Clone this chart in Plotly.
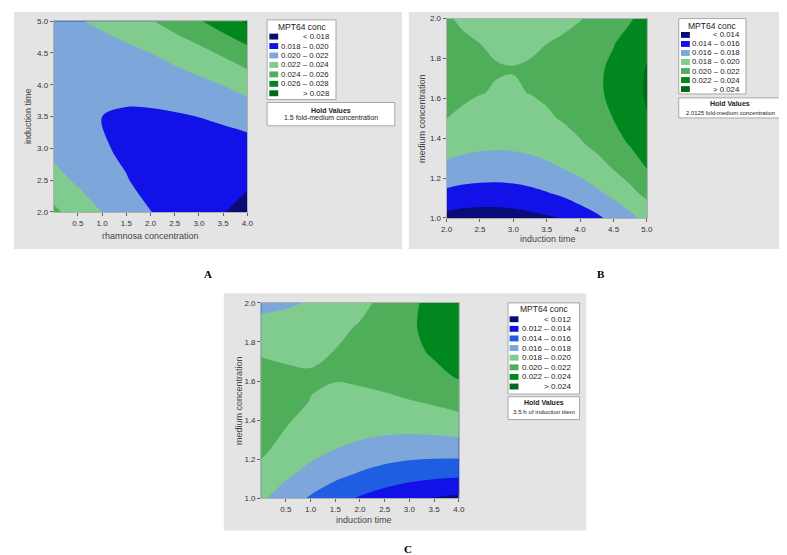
import plotly.graph_objects as go

W, H = 787, 555

# ---- Panel A: MPT64 conc vs rhamnosa concentration (x) and induction time (y), values x1e-5
xA = [0, 0.5, 1, 1.5, 2, 2.5, 3, 3.5, 4]
yA = [2, 2.5, 3, 3.5, 4, 4.5, 5]
zA = [
    [2440, 2313, 2197, 2094, 2004, 1925, 1859, 1804, 1762],
    [2269, 2170, 2083, 2008, 1946, 1896, 1858, 1832, 1818],
    [2146, 2075, 2017, 1971, 1937, 1915, 1905, 1908, 1923],
    [2072, 2030, 2000, 1982, 1976, 1983, 2002, 2033, 2076],
    [2046, 2033, 2031, 2042, 2065, 2100, 2147, 2206, 2277],
    [2069, 2084, 2111, 2150, 2201, 2265, 2340, 2428, 2528],
    [2141, 2184, 2239, 2307, 2386, 2479, 2582, 2699, 2828],
]

# ---- Panel B: induction time (x) and medium concentration (y)
xB = [2, 2.25, 2.5, 2.75, 3, 3.25, 3.5, 3.75, 4, 4.25, 4.5, 4.75, 5]
yB = [1, 1.125, 1.25, 1.375, 1.5, 1.625, 1.75, 1.875, 2]
zB = [
    [1337, 1314, 1304, 1305, 1319, 1345, 1375, 1410, 1493, 1565, 1654, 1750, 1861],
    [1564, 1538, 1525, 1523, 1534, 1557, 1592, 1638, 1697, 1767, 1852, 1947, 2054],
    [1751, 1722, 1706, 1701, 1709, 1729, 1761, 1805, 1861, 1929, 2010, 2102, 2207],
    [1897, 1865, 1846, 1838, 1843, 1860, 1889, 1931, 1984, 2050, 2127, 2217, 2319],
    [2002, 1967, 1945, 1935, 1937, 1951, 1978, 2016, 2067, 2129, 2204, 2291, 2390],
    [2066, 2029, 2004, 1991, 1991, 2002, 2025, 2061, 2109, 2169, 2241, 2325, 2421],
    [2090, 2050, 2023, 2007, 2003, 2012, 2033, 2065, 2110, 2167, 2237, 2318, 2411],
    [2074, 2031, 2000, 1982, 1976, 1981, 1999, 2029, 2071, 2126, 2192, 2271, 2361],
    [2017, 1971, 1938, 1916, 1907, 1910, 1925, 1953, 1992, 2043, 2107, 2183, 2270],
]

# ---- Panel C: induction time (x) and medium concentration (y)
xC = [0, 0.5, 1, 1.5, 2, 2.5, 3, 3.5, 4]
yC = [1, 1.125, 1.25, 1.375, 1.5, 1.625, 1.75, 1.875, 2]
zC = [
    [1832, 1698, 1578, 1472, 1380, 1303, 1240, 1191, 1157],
    [1951, 1838, 1739, 1654, 1584, 1527, 1485, 1458, 1444],
    [2033, 1941, 1863, 1799, 1750, 1714, 1693, 1686, 1694],
    [2077, 2006, 1949, 1906, 1878, 1864, 1864, 1878, 1906],
    [2084, 2034, 1998, 1976, 1969, 1975, 1996, 2031, 2081],
    [2053, 2024, 2009, 2008, 2022, 2049, 2091, 2148, 2218],
    [1985, 1976, 1982, 2003, 2037, 2086, 2149, 2226, 2317],
    [1879, 1891, 1918, 1960, 2015, 2085, 2169, 2267, 2379],
    [1735, 1769, 1817, 1879, 1955, 2046, 2151, 2270, 2395],
]

levelsA = [0.018, 0.020, 0.022, 0.024, 0.026, 0.028]
levelsB = [0.014, 0.016, 0.018, 0.020, 0.022, 0.024]
levelsC = [0.012, 0.014, 0.016, 0.018, 0.020, 0.022, 0.024]
ticksA_x = [0.5, 1, 1.5, 2, 2.5, 3, 3.5, 4]
ticksA_y = [2, 2.5, 3, 3.5, 4, 4.5, 5]
ticksB_x = [2, 2.5, 3, 3.5, 4, 4.5, 5]
ticksB_y = [1, 1.2, 1.4, 1.6, 1.8, 2]
ticksC_x = [0.5, 1, 1.5, 2, 2.5, 3, 3.5, 4]
ticksC_y = [1, 1.2, 1.4, 1.6, 1.8, 2]

NAVY = '#0b0b78'; BLUE = '#1212e8'; MID = '#1f5ee0'; LB = '#7da7da'
LG = '#80cc8e'; MG = '#4fae5a'; GR = '#00871e'; DG = '#006818'
colsA = [NAVY, BLUE, LB, LG, MG, GR, DG]
colsC = [NAVY, BLUE, MID, LB, LG, MG, GR, DG]


def cscale(cols):
    n = len(cols) - 1
    return [[k / n, c] for k, c in enumerate(cols)]


fig = go.Figure()


def contour(x, y, z, levels, cols, ax):
    fig.add_trace(go.Contour(
        x=x, y=y, z=[[v / 1e5 for v in row] for row in z],
        colorscale=cscale(cols), autocontour=False,
        contours=dict(start=levels[0], end=levels[-1], size=0.002,
                      coloring='fill', showlines=False),
        line=dict(smoothing=1, width=0), showscale=False, hoverinfo='skip',
        xaxis='x' + ax, yaxis='y' + ax))


contour(xA, yA, zA, levelsA, colsA, '')
contour(xB, yB, zB, levelsB, colsA, '2')
contour(xC, yC, zC, levelsC, colsC, '3')


def xd(a, b):
    return [a / W, b / W]


def yd(t, b):
    return [1 - b / H, 1 - t / H]


tf = dict(family='Liberation Sans', size=8, color='#333')


def axis(dom, rng, tv, anchor):
    return dict(domain=dom, range=rng, tickvals=tv, ticktext=['%.1f' % t for t in tv],
                ticks='outside', ticklen=3, tickcolor='#666', tickfont=tf,
                showgrid=False, zeroline=False, showline=True, linecolor='#b0b0b0',
                mirror=True, anchor=anchor, fixedrange=True)


fig.update_layout(
    xaxis=axis(xd(40.3, 237), [0, 4], ticksA_x, 'y'),
    yaxis=axis(yd(9.3, 203.3), [2, 5], ticksA_y, 'x'),
    xaxis2=axis(xd(439.3, 642.7), [2, 5], ticksB_x, 'y2'),
    yaxis2=axis(yd(6.7, 209.3), [1, 2], ticksB_y, 'x2'),
    xaxis3=axis(xd(251, 451.7), [0, 4], ticksC_x, 'y3'),
    yaxis3=axis(yd(295.7, 494.3), [1, 2], ticksC_y, 'x3'),
)

shapes = []
anns = []


def rect(x0, y0, x1, y1, fill, line=None):
    shapes.append(dict(type='rect', xref='paper', yref='paper', x0=x0 / W, x1=x1 / W,
                       y0=1 - y1 / H, y1=1 - y0 / H, fillcolor=fill,
                       line=dict(width=1 if line else 0, color=line or fill), layer='below'))


def ann(text, x, y, size, xa='center', bold=False, color='#222', family='Liberation Sans', angle=0):
    if bold:
        text = '<b>%s</b>' % text
    anns.append(dict(text=text, xref='paper', yref='paper', x=x / W, y=1 - y / H,
                     xanchor=xa, yanchor='middle', showarrow=False, textangle=angle,
                     font=dict(family=family, size=size, color=color)))


GRAY = '#e4e4e4'
rect(0, 0, 394, 241, GRAY)
rect(401, 0, 787, 241, GRAY)
rect(213, 286, 581, 527, GRAY)


def labs(levels):
    out = ['< %.3f' % levels[0]]
    for a, b in zip(levels[:-1], levels[1:]):
        out.append('%.3f – %.3f' % (a, b))
    out.append('> %.3f' % levels[-1])
    return out


def legend(bx0, bx1, by0, by1, title_y, row0, dy, sw0, tx1, labels, cols, size,
           hx1, hy0, hy1, hv_y, ht_y, htext, hsize):
    rect(bx0, by0, bx1, by1, 'white', '#a8a8a8')
    ann('MPT64 conc', (bx0 + bx1) / 2, title_y, 8.5)
    for k, (lab, c) in enumerate(zip(labels, cols)):
        y = row0 + k * dy
        shapes.append(dict(type='rect', xref='paper', yref='paper', x0=sw0 / W, x1=(sw0 + 9) / W,
                           y0=1 - (y + 3) / H, y1=1 - (y - 3) / H, fillcolor=c, line=dict(width=0)))
        ann(lab, tx1, y, size, xa='right')
    rect(bx0, hy0, hx1, hy1, 'white', '#a8a8a8')
    ann('Hold Values', (bx0 + hx1) / 2, hv_y, 7, bold=True)
    ann(htext, (bx0 + hx1) / 2, ht_y, hsize)


legend(257, 327, 8, 89, 15, 25, 9.6, 259.3, 322, labs(levelsA), colsA, 7.8,
       386.7, 92, 115.7, 100, 107.7, '1.5 fold-medium concentration', 7)
legend(675, 743.3, 6.7, 83.3, 14, 23.3, 9.17, 677.3, 739, labs(levelsB), colsA, 7.8,
       780, 87.3, 107.7, 93.3, 102.7, '2,0125 fold-medium concentration', 5.9)
legend(501.7, 574.3, 295.7, 388.3, 302.3, 312.3, 9.77, 503.3, 568, labs(levelsC), colsC, 8,
       574.3, 391, 414.3, 397.3, 405.7, '3.5 h of induction tiiem', 6.2)

ann('rhamnosa concentration', 138.6, 228, 9, color='#444')
ann('induction time', 15, 106, 9, color='#444', angle=-90)
ann('induction time', 542, 230.7, 9, color='#444')
ann('medium concentration', 415, 108, 9, color='#444', angle=-90)
ann('induction time', 355, 516, 9, color='#444')
ann('medium concentration', 228, 395, 9, color='#444', angle=-90)
ann('A', 196.5, 266, 11, bold=True, color='black', family='Liberation Serif')
ann('B', 596.5, 266, 11, bold=True, color='black', family='Liberation Serif')
ann('C', 400, 546, 11, bold=True, color='black', family='Liberation Serif')

fig.update_layout(width=W, height=H, margin=dict(l=0, r=0, t=0, b=0), paper_bgcolor='white',
                  plot_bgcolor='rgba(0,0,0,0)', showlegend=False, shapes=shapes, annotations=anns)
fig.write_html("out.html")
